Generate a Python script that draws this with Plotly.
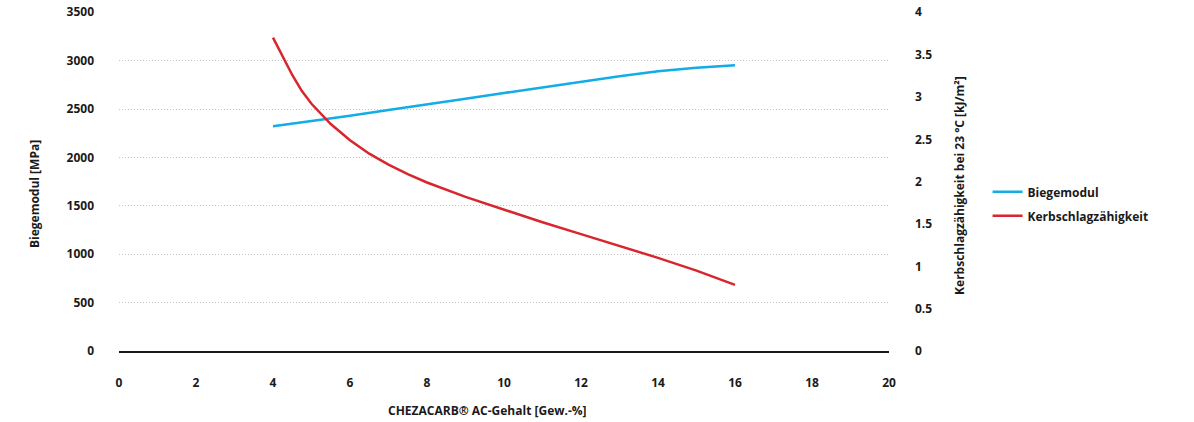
import plotly.graph_objects as go

ac_gehalt_blue = [4, 5, 6, 7, 8, 9, 10, 11, 12, 13, 14, 15, 16]
biegemodul = [2323, 2375, 2432, 2490, 2545, 2606, 2666, 2726, 2784, 2840, 2890, 2928, 2953]

ac_gehalt_red = [4, 4.25, 4.5, 4.75, 5, 5.5, 6, 6.5, 7, 7.5, 8, 9, 10, 11, 12, 13, 14, 15, 16]
kerbschlag = [3.70, 3.48, 3.26, 3.07, 2.92, 2.68, 2.49, 2.33, 2.20, 2.09, 1.99, 1.82, 1.67, 1.52, 1.38, 1.24, 1.10, 0.95, 0.78]

x_ticks = list(range(0, 21, 2))
y1_ticks = list(range(0, 3501, 500))
y2_ticks = [0, 0.5, 1, 1.5, 2, 2.5, 3, 3.5, 4]
y2_labels = ["0", "0.5", "1", "1.5", "2", "2.5", "3", "3.5", "4"]

x_title = "CHEZACARB® AC-Gehalt [Gew.-%]"
y1_title = "Biegemodul [MPa]"
y2_title = "Kerbschlagzähigkeit bei 23 °C [kJ/m²]"

FONT = "Open Sans"
tickfont = dict(family=FONT, size=12, color="#1a1a1a", weight="bold")
titlefont = dict(family=FONT, size=12, color="#1a1a1a", weight="bold")

Y1_MAX = 3503
Y2_MAX = Y1_MAX / 875.0

fig = go.Figure()
fig.add_trace(go.Scatter(x=ac_gehalt_blue, y=biegemodul, mode="lines", name="Biegemodul",
                         legendgroup="a",
                         line=dict(color="#12ACE6", width=2.5), yaxis="y"))
fig.add_trace(go.Scatter(x=ac_gehalt_red, y=kerbschlag, mode="lines", name="Kerbschlagzähigkeit",
                         legendgroup="b",
                         line=dict(color="#D7262E", width=2.5), yaxis="y2"))

fig.update_layout(
    width=1194, height=422,
    margin=dict(l=119, r=305, t=12, b=71, autoexpand=False),
    plot_bgcolor="white", paper_bgcolor="white",
    font=dict(family=FONT, size=12, color="#1a1a1a"),
    xaxis=dict(range=[0, 20], tickvals=x_ticks, showgrid=False, zeroline=False, automargin=False,
               showline=True, linecolor="#1a1a1a", linewidth=2,
               tickfont=tickfont, ticklabelstandoff=20),
    yaxis=dict(range=[0, Y1_MAX], tickvals=y1_ticks, showgrid=True, gridcolor="#c4c4c4", griddash="1px,2px", gridwidth=1,
               zeroline=False, automargin=False, tickfont=tickfont, ticklabelstandoff=24,
               ticklabeloverflow="allow"),
    yaxis2=dict(range=[0, Y2_MAX], tickvals=y2_ticks, ticktext=y2_labels, overlaying="y", side="right",
                showgrid=False, zeroline=False, automargin=False, tickfont=tickfont, ticklabelstandoff=25,
                ticklabeloverflow="allow"),
    legend=dict(x=1.128, y=0.434, xanchor="left", yanchor="middle", font=titlefont,
                tracegroupgap=5, bgcolor="rgba(0,0,0,0)"),
    showlegend=True,
    annotations=[
        dict(text=x_title, xref="paper", yref="paper", x=0.479, y=0, xanchor="center", yanchor="middle",
             yshift=-59, showarrow=False, font=titlefont),
        dict(text=y1_title, xref="paper", yref="paper", x=0, y=0.463, xanchor="center", yanchor="middle",
             xshift=-85, textangle=-90, showarrow=False, font=titlefont),
        dict(text=y2_title, xref="paper", yref="paper", x=1, y=0.487, xanchor="center", yanchor="middle",
             xshift=71, textangle=-90, showarrow=False, font=titlefont),
    ],
)

# remove the default 8px page margin so the figure fills the window exactly
fig.write_html("out.html", config={"displayModeBar": False},
               post_script="document.body.style.margin='0';")
